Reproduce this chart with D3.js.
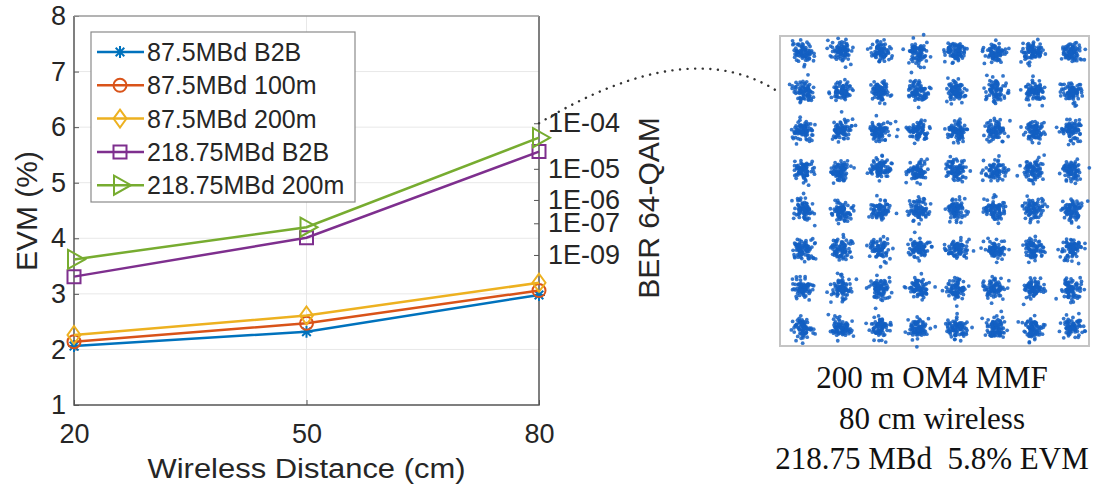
<!DOCTYPE html>
<html>
<head>
<meta charset="UTF-8">
<style>
  body { margin: 0; background: #fff; }
  svg { display: block; }
  text { font-family: "Liberation Sans", Arial, sans-serif; fill: #262626; }
  .serif { font-family: "Liberation Serif", "Times New Roman", serif; fill: #111; white-space: pre; }
</style>
</head>
<body>
<svg></svg>
<script src="https://d3js.org/d3.v7.min.js"></script>
<script>

// data
const distances = [20, 50, 80];
const evmTicks = [1, 2, 3, 4, 5, 6, 7, 8];
const seriesNames = ["87.5MBd B2B", "87.5MBd 100m", "87.5MBd 200m", "218.75MBd B2B", "218.75MBd 200m"];
const evm875B2B = [2.06, 2.32, 2.98];
const evm875100m = [2.14, 2.47, 3.06];
const evm875200m = [2.26, 2.61, 3.2];
const evm21875B2B = [3.31, 4.01, 5.56];
const evm21875200m = [3.62, 4.2, 5.81];
const seriesColors = ["#0072BD", "#D95319", "#EDB120", "#7E2F8E", "#77AC30"];
const seriesMarkers = ["asterisk", "circle", "diamond", "square", "triangle"];

// BER 64-QAM labels and the EVM they sit at on the right axis
const berTickLabels = ["1E-04", "1E-05", "1E-06", "1E-07", "1E-09"];
const berTickEvm = [6.07, 5.25, 4.69, 4.27, 3.70];

// inset constellation (64-QAM, 200 m OM4 + 80 cm wireless)
const qamLevels = [-7, -5, -3, -1, 1, 3, 5, 7];
const insetEvm = 5.8;
const captionLines = ["200 m OM4 MMF", "80 cm wireless", "218.75 MBd  5.8% EVM"];

let width = 1099,
    height = 490;

let svg = d3.select("svg")
    .attr("width", width)
    .attr("height", height);

let x = d3.scaleLinear().domain([20, 80]).range([74, 539]);
let y = d3.scaleLinear().domain([1, 8]).range([405, 16]);

let series = [evm875B2B, evm875100m, evm875200m, evm21875B2B, evm21875200m].map((v, i) => ({
    name: seriesNames[i],
    color: seriesColors[i],
    marker: seriesMarkers[i],
    points: distances.map((d, j) => ({ x: d, y: v[j] }))
}));

function markerPath(type) {
  if (type == "asterisk") return "M-6,0H6M0,-6V6M-4.3,-4.3L4.3,4.3M-4.3,4.3L4.3,-4.3";
  if (type == "circle") return "M-6.5,0A6.5,6.5 0 1,0 6.5,0A6.5,6.5 0 1,0 -6.5,0Z";
  if (type == "diamond") return "M0,-9L6.5,0L0,9L-6.5,0Z";
  if (type == "square") return "M-6.5,-6.5H6.5V6.5H-6.5Z";
  return "M-6,-9.5L11,0L-6,9.5Z";
}

// grid
let grid = svg.append("g").attr("stroke", "#e8e8e8").attr("stroke-width", 1);
grid.selectAll("line.h")
  .data(evmTicks.slice(1, -1))
  .enter().append("line")
    .attr("x1", x(20)).attr("x2", x(80))
    .attr("y1", d => y(d)).attr("y2", d => y(d));
grid.selectAll("line.v")
  .data(distances.slice(1, -1))
  .enter().append("line")
    .attr("x1", d => x(d)).attr("x2", d => x(d))
    .attr("y1", y(1)).attr("y2", y(8));

// axes (inward ticks like matlab)
let yAxis = svg.append("g")
    .attr("transform", "translate(" + x(20) + ",0)")
    .call(d3.axisLeft(y).tickValues(evmTicks).tickFormat(d3.format("d")).tickSize(-5).tickPadding(8));
let xAxis = svg.append("g")
    .attr("transform", "translate(0," + y(1) + ")")
    .call(d3.axisBottom(x).tickValues(distances).tickFormat(d3.format("d")).tickSize(-5).tickPadding(19));
let rAxis = svg.append("g")
    .attr("transform", "translate(" + x(80) + ",0)")
    .call(d3.axisRight(y).tickValues(berTickEvm).tickFormat((d, i) => berTickLabels[i]).tickSize(-5).tickPadding(9));

[yAxis, xAxis, rAxis].forEach(a => {
  a.select(".domain").remove();
  a.selectAll(".tick line").attr("stroke", "#555").attr("stroke-width", 1);
  a.selectAll(".tick text").attr("fill", "#262626").style("font-size", "27px");
});
rAxis.selectAll(".tick text").style("font-size", "27px");

// box
svg.append("path")
    .attr("d", "M" + x(20) + "," + y(8) + "V" + y(1) + "H" + x(80) + "V" + y(8))
    .attr("fill", "none").attr("stroke", "#555").attr("stroke-width", 1.5);
svg.append("line")
    .attr("x1", x(20)).attr("x2", x(80)).attr("y1", y(8)).attr("y2", y(8))
    .attr("stroke", "#9a9a9a").attr("stroke-width", 1.5);

// lines + markers
let line = d3.line().x(d => x(d.x)).y(d => y(d.y));

let sg = svg.append("g").selectAll("g")
  .data(series)
  .enter().append("g");

sg.append("path")
    .attr("d", d => line(d.points))
    .attr("fill", "none")
    .attr("stroke", d => d.color)
    .attr("stroke-width", 2.5);

sg.each(function(s) {
  d3.select(this).selectAll("path.m")
    .data(s.points)
    .enter().append("path")
      .attr("class", "m")
      .attr("transform", d => "translate(" + x(d.x) + "," + y(d.y) + ")")
      .attr("d", markerPath(s.marker))
      .attr("fill", "none")
      .attr("stroke", s.color)
      .attr("stroke-width", 2);
});

// legend
let legend = svg.append("g");
legend.append("rect")
    .attr("x", 91).attr("y", 32).attr("width", 264).attr("height", 170)
    .attr("fill", "#fff").attr("stroke", "#8a8a8a").attr("stroke-width", 1.2);

let li = legend.selectAll("g.item")
  .data(series)
  .enter().append("g")
    .attr("transform", (d, i) => "translate(0," + (52 + i * 33.3) + ")");
li.append("line")
    .attr("x1", 97).attr("x2", 144)
    .attr("stroke", d => d.color).attr("stroke-width", 2.5);
li.append("path")
    .attr("transform", "translate(120,0)")
    .attr("d", d => markerPath(d.marker))
    .attr("fill", "none")
    .attr("stroke", d => d.color)
    .attr("stroke-width", 2);
li.append("text")
    .attr("x", 147).attr("dy", "0.36em")
    .style("font-size", "25px")
    .text(d => d.name);

// axis labels
svg.append("text")
    .attr("x", (x(20) + x(80)) / 2).attr("y", 478)
    .attr("text-anchor", "middle")
    .attr("textLength", 318).attr("lengthAdjust", "spacingAndGlyphs")
    .style("font-size", "27px")
    .text("Wireless Distance (cm)");

svg.append("text")
    .attr("transform", "translate(37,211) rotate(-90)")
    .attr("text-anchor", "middle")
    .style("font-size", "30px")
    .text("EVM (%)");

svg.append("text")
    .attr("transform", "translate(659,208) rotate(-90)")
    .attr("text-anchor", "middle")
    .style("font-size", "30px")
    .text("BER 64-QAM");

// inset constellation
let cx = d3.scaleLinear().domain([-7, 7]).range([803, 1072]);
let cy = d3.scaleLinear().domain([7, -7]).range([52, 328]);

svg.append("rect")
    .attr("x", 780).attr("y", 36).attr("width", 309).attr("height", 310)
    .attr("fill", "#fff").attr("stroke", "#c4c4c4").attr("stroke-width", 2);

// noise per axis from the EVM: sigma = evm * rms / sqrt(2), seeded so it is the same every run
let rms = Math.sqrt(d3.mean(qamLevels, a => d3.mean(qamLevels, b => a * a + b * b)));
let sigma = insetEvm / 100 * rms / Math.SQRT2;
let noise = d3.randomNormal.source(d3.randomLcg(0.37))(0, sigma);

let symbols = [];
qamLevels.forEach(i => qamLevels.forEach(q => {
  for (let k = 0; k < 80; k++) symbols.push({ i: i + noise(), q: q + noise() });
}));

svg.append("g")
  .selectAll("circle")
  .data(symbols)
  .enter().append("circle")
    .attr("cx", d => cx(d.i))
    .attr("cy", d => cy(d.q))
    .attr("r", 1.9)
    .attr("fill", "#135fc2")
    .attr("fill-opacity", 0.85);

// dotted connector from the 80 cm point to the inset
let conn = d3.path();
conn.moveTo(x(80), y(berTickEvm[0]));
conn.quadraticCurveTo(690, 32, 780, 93);
svg.append("path")
    .attr("d", conn.toString())
    .attr("fill", "none")
    .attr("stroke", "#333")
    .attr("stroke-width", 2.4)
    .attr("stroke-linecap", "round")
    .attr("stroke-dasharray", "0.1,7.5");

svg.append("g")
  .selectAll("text")
  .data(captionLines)
  .enter().append("text")
    .attr("class", "serif")
    .attr("x", 932)
    .attr("y", (d, i) => 388 + i * 40.5)
    .attr("text-anchor", "middle")
    .style("font-size", "31px")
    .text(d => d);

</script>
</body>
</html>
